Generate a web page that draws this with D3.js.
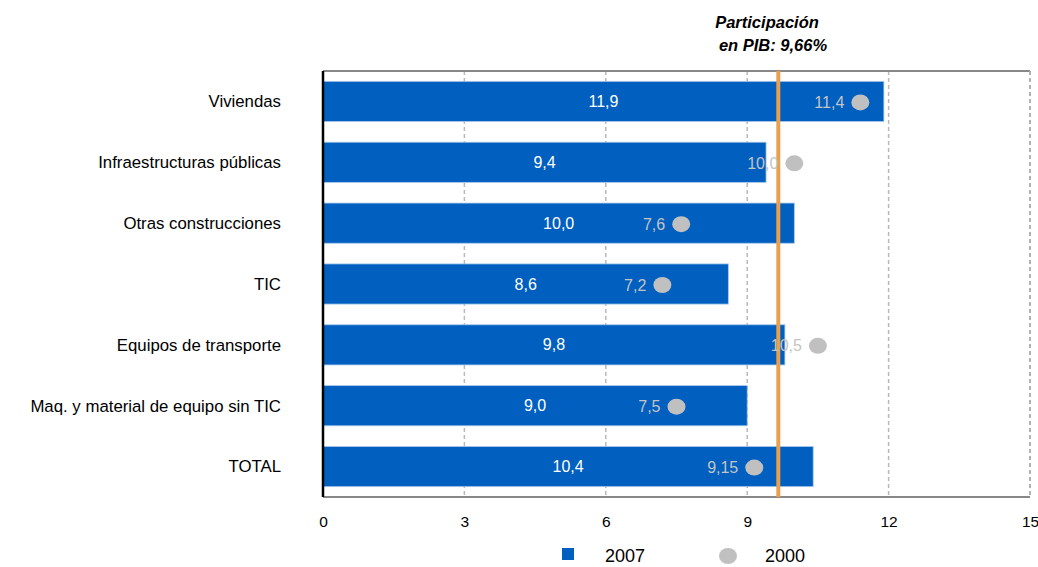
<!DOCTYPE html>
<html><head><meta charset="utf-8">
<script src="https://cdn.jsdelivr.net/npm/d3@7"></script>
<style>body{margin:0;background:#fff}</style>
</head><body>
<svg id="c" width="1038" height="567"></svg>
<script>
const categories = ["Viviendas","Infraestructuras públicas","Otras construcciones","TIC","Equipos de transporte","Maq. y material de equipo sin TIC","TOTAL"];
const values2007 = [11.9, 9.4, 10.0, 8.6, 9.8, 9.0, 10.4];
const values2000 = [11.4, 10.0, 7.6, 7.2, 10.5, 7.5, 9.15];
const labels2007 = ["11,9","9,4","10,0","8,6","9,8","9,0","10,4"];
const labels2000 = ["11,4","10,0","7,6","7,2","10,5","7,5","9,15"];
const xTicks = [0,3,6,9,12,15];
const gdpShare = 9.66;
const seriesNames = ["2007","2000"];

const svg = d3.select("#c");
const F = "'Liberation Sans', Arial, sans-serif";
const L=323, R=1030, T=71, B=497;
const x = d3.scaleLinear().domain([0,15]).range([L,R]);
const y = d3.scaleBand().domain(categories).range([T,B]).paddingInner(0.34).paddingOuter(0.17);
const blue="#005fbf", gray="#c0c0c0";

// gridlines
svg.append("g").selectAll("line").data(xTicks.filter(d=>d>0)).join("line")
  .attr("x1",d=>x(d)).attr("x2",d=>x(d)).attr("y1",T).attr("y2",B)
  .attr("stroke","#b8b8b8").attr("stroke-width",1.5).attr("stroke-dasharray","4,3");
svg.append("line").attr("x1",L).attr("x2",R).attr("y1",T).attr("y2",T).attr("stroke","#888").attr("stroke-width",2);
svg.append("line").attr("x1",L).attr("x2",R).attr("y1",B).attr("y2",B).attr("stroke","#888").attr("stroke-width",2);

// bars
svg.append("g").selectAll("rect").data(categories).join("rect")
  .attr("x",x(0)).attr("y",d=>y(d)).attr("width",(d,i)=>x(values2007[i])-x(0)).attr("height",y.bandwidth())
  .attr("fill",blue).attr("stroke","#a8c8ec").attr("stroke-width",0.8);

// bar labels
svg.append("g").selectAll("text").data(categories).join("text")
  .attr("x",(d,i)=>(x(0)+x(values2007[i]))/2).attr("y",d=>y(d)+y.bandwidth()/2)
  .attr("dy","0.35em").attr("text-anchor","middle").attr("fill","#fff")
  .attr("font-family",F).attr("font-size",16).text((d,i)=>labels2007[i]);

// orange line
svg.append("line").attr("x1",x(gdpShare)).attr("x2",x(gdpShare)).attr("y1",T).attr("y2",B)
  .attr("stroke","#e8a050").attr("stroke-width",4);

// dots
svg.append("g").selectAll("ellipse").data(categories).join("ellipse")
  .attr("cx",(d,i)=>x(values2000[i])).attr("cy",d=>y(d)+y.bandwidth()/2+1)
  .attr("rx",9).attr("ry",8).attr("fill",gray);
svg.append("g").selectAll("text").data(categories).join("text")
  .attr("x",(d,i)=>x(values2000[i])-16).attr("y",d=>y(d)+y.bandwidth()/2+1)
  .attr("dy","0.35em").attr("text-anchor","end").attr("fill","#c4c4c4")
  .attr("font-family",F).attr("font-size",16).text((d,i)=>labels2000[i]);

// left axis and right border
svg.append("line").attr("x1",L).attr("x2",L).attr("y1",T).attr("y2",B).attr("stroke","#000").attr("stroke-width",2.5);
svg.append("line").attr("x1",R).attr("x2",R).attr("y1",T).attr("y2",B).attr("stroke","#aaa").attr("stroke-width",1.5).attr("stroke-dasharray","4,3");

// category labels
svg.append("g").selectAll("text").data(categories).join("text")
  .attr("x",281).attr("y",d=>y(d)+y.bandwidth()/2)
  .attr("dy","0.35em").attr("text-anchor","end").attr("fill","#000")
  .attr("font-family",F).attr("font-size",16.8).text(d=>d);

// x axis labels
const ax = svg.append("g").attr("transform",`translate(0,${B})`)
  .call(d3.axisBottom(x).tickValues(xTicks).tickSize(0).tickPadding(19).tickFormat(d3.format("d")));
ax.select(".domain").remove();
ax.selectAll("text").attr("font-family",F).attr("font-size",15.5).attr("fill","#000");

// annotation
const ann = svg.append("text").attr("font-family",F).attr("font-size",16.5)
  .attr("font-weight","bold").attr("font-style","italic").attr("text-anchor","middle");
ann.append("tspan").attr("x",767).attr("y",28).text("Participación");
ann.append("tspan").attr("x",773).attr("y",51).text("en PIB: 9,66%");

// legend
const lg = svg.append("g").attr("font-family",F).attr("font-size",18);
lg.append("rect").attr("x",562).attr("y",548).attr("width",12).attr("height",12).attr("fill",blue);
lg.append("text").attr("x",605).attr("y",562).text(seriesNames[0]);
lg.append("ellipse").attr("cx",728).attr("cy",556).attr("rx",9).attr("ry",8).attr("fill",gray);
lg.append("text").attr("x",765).attr("y",562).text(seriesNames[1]);
</script>
</body></html>
